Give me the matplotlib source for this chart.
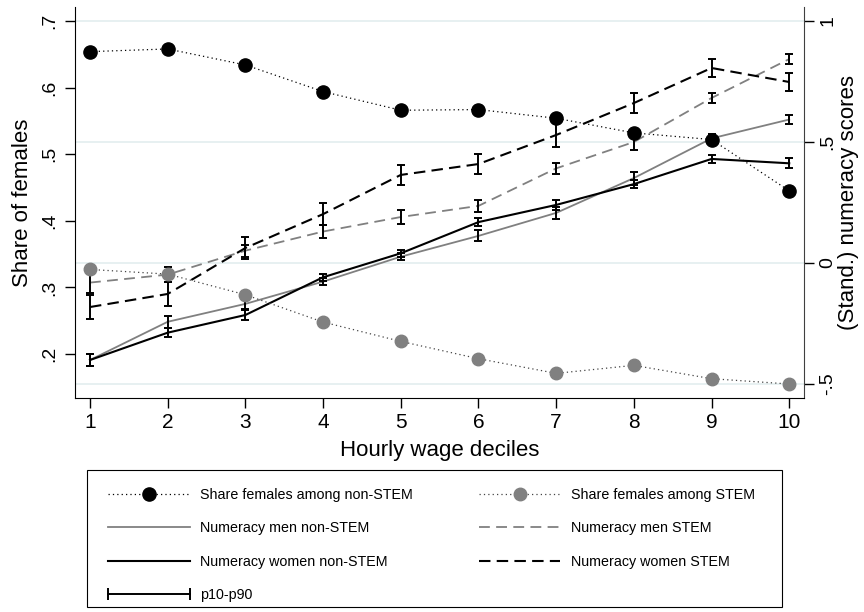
# Share of females and numeracy scores by hourly wage decile (STEM vs non-STEM)

import numpy as np
import matplotlib.pyplot as plt
from matplotlib.lines import Line2D
from matplotlib.patches import Rectangle
from matplotlib.legend_handler import HandlerLine2D

plt.rcParams['font.family'] = ['Liberation Sans', 'DejaVu Sans']

# Data
deciles = np.arange(1, 11)
share_nonstem = [0.654, 0.658, 0.634, 0.594, 0.566, 0.567, 0.554, 0.532, 0.522, 0.445]
share_stem = [0.327, 0.320, 0.289, 0.248, 0.219, 0.193, 0.171, 0.183, 0.163, 0.155]

num_men_nonstem = [-0.401, -0.243, -0.169, -0.077, 0.026, 0.112, 0.207, 0.351, 0.515, 0.593]
num_women_nonstem = [-0.401, -0.288, -0.215, -0.059, 0.040, 0.169, 0.240, 0.326, 0.430, 0.412]
num_men_stem = [-0.081, -0.048, 0.051, 0.130, 0.190, 0.236, 0.391, 0.500, 0.682, 0.843]
num_women_stem = [-0.182, -0.128, 0.062, 0.202, 0.364, 0.409, 0.529, 0.661, 0.806, 0.748]

# half width of the p10-p90 bars
err_men_nonstem = [0.023, 0.025, 0.021, 0.014, 0.014, 0.023, 0.025, 0.027, 0.017, 0.019]
err_women_nonstem = [0.023, 0.019, 0.021, 0.014, 0.014, 0.017, 0.019, 0.017, 0.017, 0.021]
err_men_stem = [0.041, 0.031, 0.025, 0.027, 0.028, 0.025, 0.023, 0.031, 0.021, 0.021]
err_women_stem = [0.048, 0.050, 0.047, 0.045, 0.041, 0.043, 0.048, 0.041, 0.037, 0.039]

left_ticks = [0.2, 0.3, 0.4, 0.5, 0.6, 0.7]
left_labels = ['.2', '.3', '.4', '.5', '.6', '.7']
right_ticks = [-0.5, 0, 0.5, 1]
right_labels = ['-.5', '0', '.5', '1']

gray = '#808080'

fig = plt.figure(figsize=(8.64, 6.12), dpi=100)
ax = fig.add_axes([75/864, 1 - 398/612, (804 - 75)/864, (398 - 7)/612])
axl = ax.twinx()
ax.yaxis.tick_right()
ax.yaxis.set_label_position('right')
axl.yaxis.tick_left()
axl.yaxis.set_label_position('left')

# gridlines follow the right axis
ax.yaxis.grid(True, color='#e3edef', lw=1.2)
ax.set_axisbelow(True)

# numeracy lines (right axis)
l_mn, = ax.plot(deciles, num_men_nonstem, color=gray, lw=1.3)
l_ms, = ax.plot(deciles, num_men_stem, color=gray, lw=1.3, dashes=(6, 3.5))
l_wn, = ax.plot(deciles, num_women_nonstem, color='black', lw=1.5)
l_ws, = ax.plot(deciles, num_women_stem, color='black', lw=1.5, dashes=(5.5, 3))

for vals, errs in [(num_men_nonstem, err_men_nonstem), (num_women_nonstem, err_women_nonstem),
                   (num_men_stem, err_men_stem), (num_women_stem, err_women_stem)]:
    ax.errorbar(deciles, vals, yerr=errs, fmt='none', ecolor='black',
                elinewidth=1.4, capsize=3.2, capthick=1.4)

# share of females (left axis)
d_non, = axl.plot(deciles, share_nonstem, color='black', lw=0.9, ls=(0, (1, 2.5)),
                  marker='o', markersize=9.5, markerfacecolor='black', markeredgecolor='black')
d_stem, = axl.plot(deciles, share_stem, color='#444444', lw=0.9, ls=(0, (1, 2.5)),
                   marker='o', markersize=9, markerfacecolor=gray, markeredgecolor=gray)

ax.set_xlim(0.807, 10.19)
ax.set_ylim(-0.558, 1.058)
axl.set_ylim(0.134, 0.721)

ax.set_xticks(deciles)
ax.set_yticks(right_ticks)
ax.set_yticklabels(right_labels, rotation=90, va='center')
axl.set_yticks(left_ticks)
axl.set_yticklabels(left_labels, rotation=90, va='center')

ax.tick_params(axis='x', labelsize=15, length=7, width=1, pad=4)
ax.tick_params(axis='y', labelsize=14, length=7, width=1, pad=4, colors='black')
axl.tick_params(axis='y', labelsize=14, length=7, width=1, pad=5)

for s in ['top', 'left']:
    ax.spines[s].set_visible(False)
for s in ['top', 'right', 'bottom']:
    axl.spines[s].set_visible(False)
ax.spines['right'].set_color('#404040')

ax.set_xlabel('Hourly wage deciles', fontsize=16, labelpad=5.5)
ax.set_ylabel('(Stand.) numeracy scores', fontsize=16, labelpad=1)
axl.set_ylabel('Share of females', fontsize=16, labelpad=6)

# legend: frame drawn separately so the padding matches
p1090 = Line2D([0], [0], color='black', lw=1.4, marker='|', markersize=9, markeredgewidth=1.4)
handles = [d_non, l_mn, l_wn, p1090, d_stem, l_ms, l_ws]
labels = ['Share females among non-STEM', 'Numeracy men non-STEM', 'Numeracy women non-STEM',
          'p10-p90', 'Share females among STEM', 'Numeracy men STEM', 'Numeracy women STEM']
leg = fig.legend(handles, labels, ncol=2, loc='upper left',
                 bbox_to_anchor=(108/864, 1 - 488/612), frameon=False,
                 fontsize=10.3, handlelength=5.7, handletextpad=0.75,
                 columnspacing=4.6, labelspacing=1.36, borderpad=0, borderaxespad=0,
                 handler_map={p1090: HandlerLine2D(numpoints=2, marker_pad=0)})
fig.patches.append(Rectangle((87/864, 1 - 607/612), 695/864, 137/612,
                             transform=fig.transFigure, fill=False, ec='black', lw=0.8))

fig.savefig('out.png', dpi=100)
